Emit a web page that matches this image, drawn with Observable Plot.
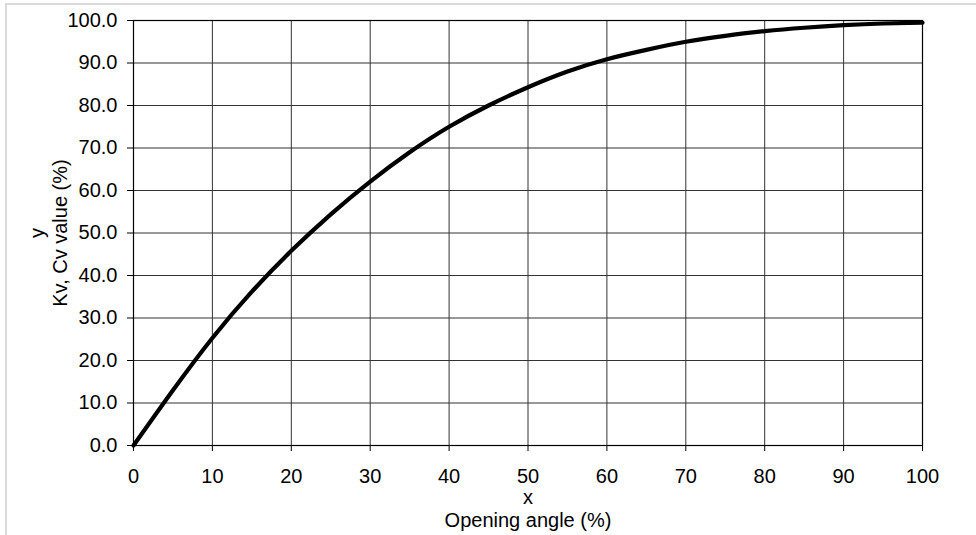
<!DOCTYPE html>
<html>
<head>
<meta charset="utf-8">
<script src="https://cdn.jsdelivr.net/npm/d3@7"></script>
<script src="https://cdn.jsdelivr.net/npm/@observablehq/plot@0.6"></script>
<style>
  html, body { margin: 0; padding: 0; background: #fff; }
  #frame { position: absolute; left: 5px; top: 3px; width: 1200px; height: 800px;
           border-left: 2px solid #d9d9d9; border-top: 2px solid #d9d9d9; }
  #chart { position: absolute; left: 0; top: 0; }
</style>
</head>
<body>
<div id="frame"></div>
<div id="chart"></div>
<script>
const openingAngle = [0, 5, 10, 15, 20, 25, 30, 35, 40, 45, 50, 55, 60, 65, 70, 75, 80, 85, 90, 95, 100];
const kvValue =      [0, 13.0, 25.3, 36.2, 45.8, 54.4, 62.1, 69.0, 75.0, 80.0, 84.3, 88.0, 90.9, 93.1, 95.0, 96.4, 97.5, 98.3, 98.9, 99.3, 99.5];
const xTicks = [0, 10, 20, 30, 40, 50, 60, 70, 80, 90, 100];
const yTicks = [0, 10, 20, 30, 40, 50, 60, 70, 80, 90, 100];
const xLabel = "x\nOpening angle (%)";
const yLabel = "y\nKv, Cv value (%)";

const data = openingAngle.map((a, i) => ({x: a, y: kvValue[i]}));

const chart = Plot.plot({
  width: 976,
  height: 535,
  marginLeft: 133,
  marginRight: 54,
  marginTop: 20,
  marginBottom: 90,
  style: {fontFamily: "'Liberation Sans', Arial, sans-serif", fontSize: "20px", color: "#000", background: "transparent"},
  x: {domain: [0, 100]},
  y: {domain: [0, 100]},
  marks: [
    Plot.gridX(xTicks, {stroke: "#333", strokeOpacity: 1, strokeWidth: 1}),
    Plot.gridY(yTicks, {stroke: "#333", strokeOpacity: 1, strokeWidth: 1}),
    Plot.axisX(xTicks, {tickSize: 6, tickPadding: 17, label: null, fontSize: 20}),
    Plot.axisY(yTicks, {tickSize: 6, tickPadding: 10, label: null, fontSize: 20, tickFormat: d3.format(".1f")}),
    Plot.frame({stroke: "#000", strokeWidth: 1.2}),
    Plot.line(data, {x: "x", y: "y", curve: "natural", stroke: "#000", strokeWidth: 4.2}),
    Plot.text([xLabel], {frameAnchor: "bottom", textAnchor: "middle", lineAnchor: "top", dy: 42, fontSize: 20, lineHeight: 1.15, fill: "#000"}),
    Plot.text([yLabel], {frameAnchor: "left", textAnchor: "middle", lineAnchor: "middle", rotate: -90, dx: -85, fontSize: 20, lineHeight: 1.15, fill: "#000"})
  ]
});
document.getElementById("chart").appendChild(chart);
</script>
</body>
</html>
